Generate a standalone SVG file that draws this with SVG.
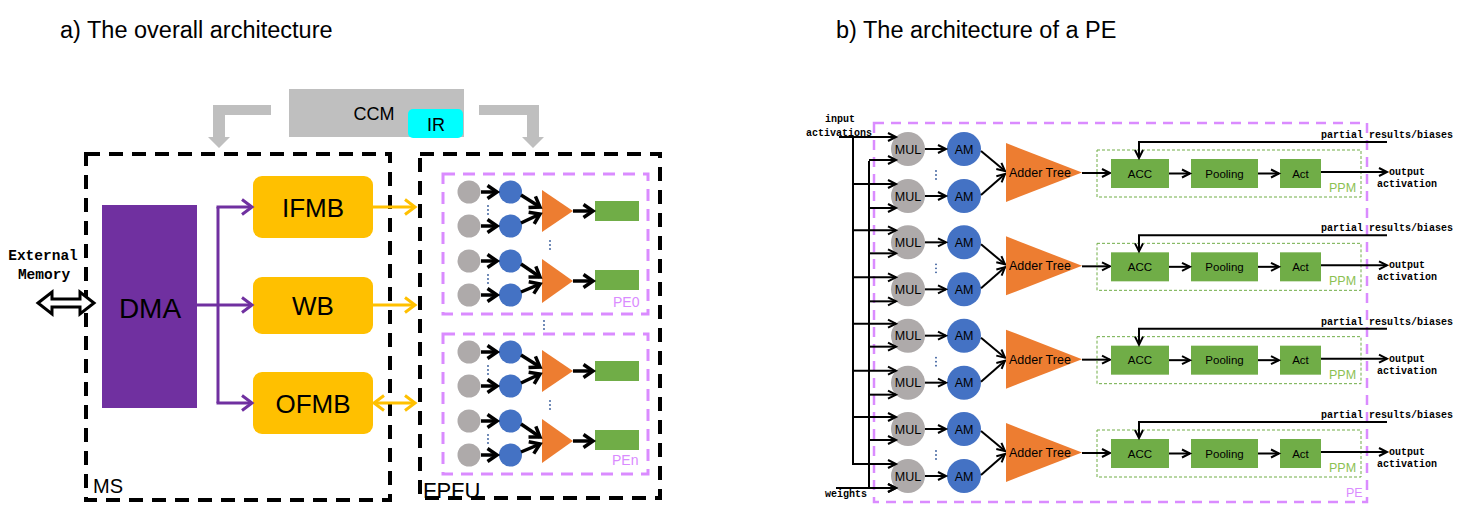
<svg xmlns="http://www.w3.org/2000/svg" width="1468" height="518" viewBox="0 0 1468 518">
<style>
text{font-family:"Liberation Sans",Arial,sans-serif;fill:#000}
.title{font-size:23.5px}
.mono{font-family:"Liberation Mono","Courier New",monospace;font-weight:bold;font-size:10px}
.big{font-size:26px;text-anchor:middle}
.blk{fill:none;stroke:#000;stroke-width:4;stroke-dasharray:14 9}
.pink{fill:none;stroke:#da8bff;stroke-width:3;stroke-dasharray:12 8}
.pinkb{fill:none;stroke:#da8bff;stroke-width:2.5;stroke-dasharray:10 7}
.ppm{fill:none;stroke:#70ad47;stroke-width:1;stroke-dasharray:3 2}
.gray{fill:#aeaaaa}
.blue{fill:#4472c4}
.org{fill:#ed7d31}
.grn{fill:#70ad47}
.ka{fill:none;stroke:#000;stroke-width:3.5;marker-end:url(#mk)}
.kb{fill:none;stroke:#000;stroke-width:2;marker-end:url(#mb)}
.kl{fill:none;stroke:#000;stroke-width:2}
.pu{fill:none;stroke:#7030a0;stroke-width:3}
.ye{fill:none;stroke:#ffc000;stroke-width:3}
.c13{font-size:12.5px;text-anchor:middle}
.c11{font-size:11.5px;text-anchor:middle}
.lbl{font-size:14px;fill:#da8bff}
.ppmt{font-size:12.5px;fill:#8cc152}
</style>
<defs>
<marker id="mk" viewBox="0 0 12 16" refX="10.5" refY="8" markerWidth="12" markerHeight="16" orient="auto" markerUnits="userSpaceOnUse" style="overflow:visible"><path d="M1,1.5 L10.5,8 L1,14.5" fill="none" stroke="#000" stroke-width="3.5"/></marker>
<marker id="mb" viewBox="0 0 10 10" refX="9" refY="5" markerWidth="10" markerHeight="10" orient="auto" markerUnits="userSpaceOnUse" style="overflow:visible"><path d="M1,1 L9,5 L1,9" fill="none" stroke="#000" stroke-width="2"/></marker>
<marker id="mp" viewBox="0 0 12 18" refX="11" refY="9" markerWidth="12" markerHeight="18" orient="auto" markerUnits="userSpaceOnUse" style="overflow:visible"><path d="M1,1.5 L11,9 L1,16.5" fill="none" stroke="#7030a0" stroke-width="3"/></marker>
<marker id="my" viewBox="0 0 12 18" refX="11" refY="9" markerWidth="12" markerHeight="18" orient="auto-start-reverse" markerUnits="userSpaceOnUse" style="overflow:visible"><path d="M1,1.5 L11,9 L1,16.5" fill="none" stroke="#ffc000" stroke-width="3"/></marker>
<g id="pecontent">
<circle class="gray" cx="469" cy="192" r="11.5"/><circle class="gray" cx="469" cy="226" r="11.5"/><circle class="gray" cx="469" cy="261" r="11.5"/><circle class="gray" cx="469" cy="295" r="11.5"/>
<circle class="blue" cx="510.5" cy="192" r="11.5"/><circle class="blue" cx="510.5" cy="226" r="11.5"/><circle class="blue" cx="510.5" cy="261" r="11.5"/><circle class="blue" cx="510.5" cy="295" r="11.5"/>
<polygon class="org" points="542,190 542,232 573,211"/><polygon class="org" points="542,259 542,303 573,281"/>
<rect class="grn" x="595" y="201" width="44" height="20"/><rect class="grn" x="595" y="270" width="44" height="20"/>
<path class="ka" d="M481,192 L497,192"/><path class="ka" d="M481,226 L497,226"/><path class="ka" d="M481,261 L497,261"/><path class="ka" d="M481,295 L497,295"/>
<path class="ka" d="M521,195 L540,207"/><path class="ka" d="M521,223 L540,214"/><path class="ka" d="M521,264 L540,277"/><path class="ka" d="M521,292 L540,284"/>
<path class="ka" d="M573,211 L593,211"/><path class="ka" d="M573,281 L593,281"/>
<g fill="#2f5597"><circle cx="488" cy="206" r="0.9"/><circle cx="488" cy="210" r="0.9"/><circle cx="488" cy="214" r="0.9"/><circle cx="488" cy="275" r="0.9"/><circle cx="488" cy="279" r="0.9"/><circle cx="488" cy="283" r="0.9"/><circle cx="550" cy="241" r="0.9"/><circle cx="550" cy="245" r="0.9"/><circle cx="550" cy="249" r="0.9"/></g>
</g>
<g id="rowb">
<circle class="gray" cx="908" cy="149" r="17"/><circle class="gray" cx="908" cy="196" r="17"/>
<circle class="blue" cx="964" cy="149" r="17"/><circle class="blue" cx="964" cy="196" r="17"/>
<text class="c13" x="908" y="153.5">MUL</text><text class="c13" x="908" y="200.5">MUL</text>
<text class="c13" x="964" y="153.5">AM</text><text class="c13" x="964" y="200.5">AM</text>
<path class="kb" d="M853,137 L896,137"/><path class="kb" d="M869,160 L896,160"/><path class="kb" d="M853,184 L896,184"/><path class="kb" d="M869,208 L896,208"/>
<path class="kb" d="M925,149 L946,149"/><path class="kb" d="M925,196 L946,196"/>
<path class="kb" d="M981,151 L1005,171"/><path class="kb" d="M981,195 L1005,174"/>
<g fill="#2f5597"><circle cx="936" cy="171" r="0.9"/><circle cx="936" cy="175" r="0.9"/><circle cx="936" cy="179" r="0.9"/></g>
<polygon class="org" points="1006,143 1006,202 1082,172.5"/>
<text x="1009" y="177" font-size="12.5px">Adder Tree</text>
<path class="kb" d="M1082,173 L1110,173"/>
<rect class="ppm" x="1097" y="150" width="264" height="47"/>
<rect class="grn" x="1111" y="159" width="58" height="29"/><rect class="grn" x="1191" y="159" width="67" height="29"/><rect class="grn" x="1280" y="159" width="41" height="29"/>
<text class="c11" x="1140" y="177.5">ACC</text><text class="c11" x="1224.5" y="177.5">Pooling</text><text class="c11" x="1300.5" y="177.5">Act</text>
<path class="kb" d="M1169,173.5 L1190,173.5"/><path class="kb" d="M1258,173.5 L1279,173.5"/>
<path class="kb" d="M1321,172 L1387,172"/>
<path class="kb" d="M1387,142 L1139,142 L1139,158"/>
<text class="ppmt" x="1329" y="192">PPM</text>
<text class="mono" x="1321" y="138">partial results/biases</text>
<text class="mono" x="1389" y="175">output</text>
<text class="mono" x="1377" y="187">activation</text>
</g>
</defs>
<text class="title" x="60" y="38">a) The overall architecture</text>
<text class="title" x="836" y="38">b) The architecture of a PE</text>
<g id="ccm">
<rect x="289" y="89" width="175" height="48" fill="#bfbfbf"/>
<text x="374" y="120" font-size="18px" text-anchor="middle">CCM</text>
</g>
<g id="ir">
<rect x="408" y="109" width="55" height="29" rx="5" fill="#00ffff"/>
<text x="436" y="131" font-size="18px" text-anchor="middle">IR</text>
</g>
<g id="ms">
<rect class="blk" x="86" y="154" width="304" height="346"/>
<text x="93" y="493" font-size="20px">MS</text>
</g>
<g id="fpfu">
<rect class="blk" x="420" y="154" width="240" height="344"/>
<text x="423" y="498" font-size="22px">FPFU</text>
</g>
<g id="dma">
<rect x="102" y="205" width="95" height="203" fill="#7030a0"/>
<text x="150" y="318" font-size="28px" text-anchor="middle">DMA</text>
</g>
<g id="ifmb"><rect x="253" y="176" width="120" height="62" rx="9" fill="#ffc000"/><text class="big" x="313" y="217">IFMB</text></g>
<g id="wb"><rect x="253" y="277" width="120" height="57" rx="9" fill="#ffc000"/><text class="big" x="313" y="315">WB</text></g>
<g id="ofmb"><rect x="253" y="372" width="120" height="62" rx="9" fill="#ffc000"/><text class="big" x="313" y="413">OFMB</text></g>
<g id="extmem">
<text class="mono" x="43" y="260" text-anchor="middle" style="font-size:14.5px">External</text>
<text class="mono" x="44" y="279" text-anchor="middle" style="font-size:14.5px">Memory</text>
</g>
<g id="pe0">
<rect class="pink" x="443" y="174" width="205" height="140"/>
<use href="#pecontent"/>
<text class="lbl" x="613" y="307">PE0</text>
</g>
<g id="pen">
<rect class="pink" x="443" y="334" width="205" height="140"/>
<use href="#pecontent" transform="translate(0,160)"/>
<text class="lbl" x="612" y="465">PEn</text>
</g>
<g fill="#2f5597"><circle cx="544" cy="321" r="0.9"/><circle cx="544" cy="325" r="0.9"/><circle cx="544" cy="329" r="0.9"/></g>
<g id="pe">
<rect class="pinkb" x="874" y="123" width="493" height="379"/>
<text x="1346" y="497" font-size="12.5px" style="fill:#da8bff">PE</text>
</g>
<g id="row0"><use href="#rowb"/></g>
<g id="row1"><use href="#rowb" transform="translate(0,93.33)"/></g>
<g id="row2"><use href="#rowb" transform="translate(0,186.67)"/></g>
<g id="row3"><use href="#rowb" transform="translate(0,280)"/></g>
<g id="connectors">
<path d="M271,105 L213,105 L213,137 L208,137 L219,148 L230,137 L225,137 L225,115 L271,115 Z" fill="#bfbfbf"/>
<path d="M479,105 L539,105 L539,137 L544,137 L533,148 L522,137 L527,137 L527,115 L479,115 Z" fill="#bfbfbf"/>
<polygon points="38,303 52,292 52,299 80,299 80,292 94,303 80,314 80,307 52,307 52,314" fill="#fff" stroke="#000" stroke-width="3"/>
<path class="pu" d="M197,305 L252,305" marker-end="url(#mp)"/>
<path class="pu" d="M218,207 L218,403"/>
<path class="pu" d="M216.5,207 L252,207" marker-end="url(#mp)"/>
<path class="pu" d="M216.5,403 L252,403" marker-end="url(#mp)"/>
<path class="ye" d="M373,207 L415,207" marker-end="url(#my)"/>
<path class="ye" d="M373,305 L415,305" marker-end="url(#my)"/>
<path class="ye" d="M374,403 L415,403" marker-start="url(#my)" marker-end="url(#my)"/>
<path class="kl" d="M839,137 L853,137 M853,136 L853,465 M869,161 L869,489"/>
<path class="kb" d="M836,488 L896,488"/>
<text class="mono" x="840" y="122" text-anchor="middle">input</text>
<text class="mono" x="839" y="136" text-anchor="middle">activations</text>
<text class="mono" x="846" y="497" text-anchor="middle">weights</text>
</g>
</svg>
